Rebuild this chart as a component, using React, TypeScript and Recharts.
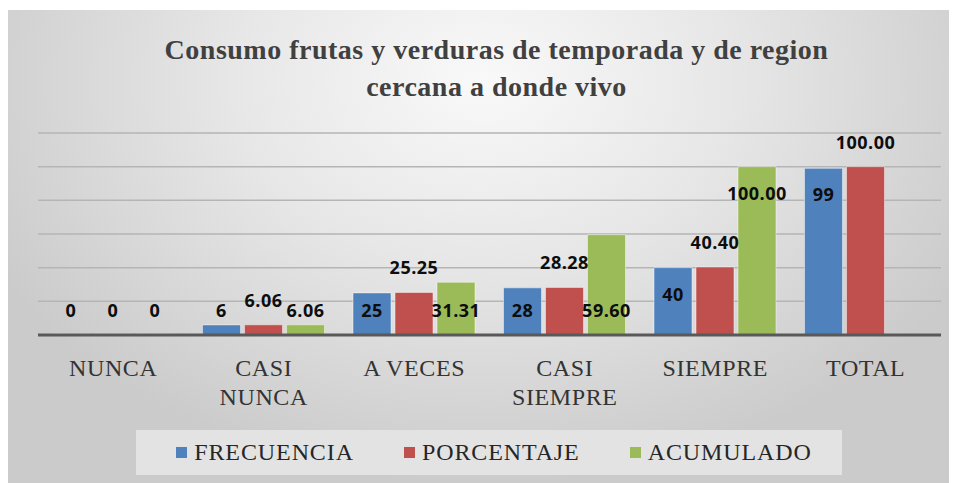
import React from 'react';
import { BarChart, Bar, XAxis, YAxis, CartesianGrid, LabelList } from 'recharts';

const categories = ['NUNCA', 'CASI NUNCA', 'A VECES', 'CASI SIEMPRE', 'SIEMPRE', 'TOTAL'];
const frecuencia = [0, 6, 25, 28, 40, 99];
const porcentaje = [0, 6.06, 25.25, 28.28, 40.4, 100];
const acumulado: (number | null)[] = [0, 6.06, 31.31, 59.6, 100, null];
const yTicks = [0, 20, 40, 60, 80, 100, 120];

// where Excel put each data label: at the base, above the bar, or inside its top
const frecuenciaSpots = ['base', 'base', 'base', 'base', 'inside', 'inside'];
const porcentajeSpots = ['base', 'above', 'above', 'above', 'above', 'above'];
const acumuladoSpots = ['base', 'base', 'base', 'base', 'inside', 'inside'];

const chartData = categories.map((name, i) => ({
    name,
    FRECUENCIA: frecuencia[i],
    PORCENTAJE: porcentaje[i],
    ACUMULADO: acumulado[i],
}));

const series = [
    { key: 'FRECUENCIA', color: '#4f81bd', decimals: 0, spots: frecuenciaSpots },
    { key: 'PORCENTAJE', color: '#c0504d', decimals: 2, spots: porcentajeSpots },
    { key: 'ACUMULADO', color: '#9bbb59', decimals: 2, spots: acumuladoSpots },
];

const serif = '"Liberation Serif", "Times New Roman", serif';

const makeLabel = (decimals: number, spots: string[]) => (props: any) => {
    const { x, y, width, height, value, index } = props;
    if (value === null || value === undefined) return null;
    const top = Number(y);
    const bottom = top + Number(height);
    const spot = spots[index];
    let cy = bottom - 25;
    if (spot === 'above') cy = top - 25;
    if (spot === 'inside') cy = top + 26;
    const text = Number(value) === 0 ? '0' : Number(value).toFixed(decimals);
    return (
        <text
            x={Number(x) + Number(width) / 2}
            y={cy}
            textAnchor="middle"
            dominantBaseline="central"
            fontFamily='"Open Sans", sans-serif'
            fontWeight={700}
            fontSize={18}
            letterSpacing={0.5}
            fill="#0d0d0d"
        >
            {text}
        </text>
    );
};

const CategoryTick = (props: any) => {
    const { x, y, payload } = props;
    const label: string = payload.value;
    const lines = label.length > 8 ? label.split(' ') : [label];
    return (
        <text x={x} y={y} textAnchor="middle" fontFamily={serif} fontSize={24} letterSpacing={0.6} fill="#333">
            {lines.map((line, i) => (
                <tspan key={i} x={x} y={Number(y) + 33 + i * 29} dominantBaseline="central">
                    {line}
                </tspan>
            ))}
        </text>
    );
};

// keep zero bars in the list so their "0" labels are drawn
const zeroBar = (value: any) => (value === 0 ? 1 : 0);

export default function App() {
    return (
        <div style={{ position: 'relative', width: 957, height: 483, marginLeft: -8, marginTop: -8, background: '#fff', overflow: 'hidden' }}>
            <div
                style={{
                    position: 'absolute',
                    left: 8,
                    top: 10,
                    width: 949,
                    height: 473,
                    background: 'radial-gradient(ellipse 58% 85% at 50% 15%, #f9f9f9 0%, #e7e7e7 45%, #cbcbcb 100%)',
                }}
            >
                <div
                    style={{
                        position: 'absolute',
                        left: 14,
                        top: 21,
                        width: 949,
                        textAlign: 'center',
                        fontFamily: serif,
                        fontWeight: 700,
                        fontSize: 28,
                        letterSpacing: 0.5,
                        lineHeight: '37px',
                        color: '#404040',
                    }}
                >
                    Consumo frutas y verduras de temporada y de region
                    <br />
                    cercana a donde vivo
                </div>

                <div style={{ position: 'absolute', left: 0, top: 0 }}>
                    <BarChart
                        width={949}
                        height={473}
                        data={chartData}
                        margin={{ top: 123, right: 16, left: 30, bottom: 88 }}
                        barSize={38}
                        barGap={4}
                    >
                        <CartesianGrid vertical={false} stroke="#b5b5b5" strokeWidth={1.5} />
                        <YAxis hide domain={[0, 120]} ticks={yTicks} />
                        <XAxis
                            dataKey="name"
                            height={60}
                            interval={0}
                            tickLine={false}
                            tickSize={0}
                            tickMargin={0}
                            axisLine={{ stroke: '#595959', strokeWidth: 3 }}
                            tick={<CategoryTick />}
                        />
                        {series.map((s) => (
                            <Bar
                                key={s.key}
                                dataKey={s.key}
                                fill={s.color}
                                stroke="rgba(255,255,255,0.45)"
                                strokeWidth={1}
                                minPointSize={zeroBar}
                                isAnimationActive={false}
                            >
                                <LabelList dataKey={s.key} content={makeLabel(s.decimals, s.spots)} />
                            </Bar>
                        ))}
                    </BarChart>
                </div>

                <div
                    style={{
                        position: 'absolute',
                        left: 128,
                        top: 420,
                        width: 706,
                        height: 45,
                        background: '#e3e3e3',
                        display: 'flex',
                        alignItems: 'center',
                        justifyContent: 'center',
                        gap: 50,
                        paddingLeft: 10,
                        boxSizing: 'border-box',
                    }}
                >
                    {series.map((s) => (
                        <div key={s.key} style={{ display: 'flex', alignItems: 'center' }}>
                            <span style={{ display: 'inline-block', width: 11, height: 11, background: s.color, marginRight: 7 }} />
                            <span style={{ fontFamily: serif, fontSize: 24, letterSpacing: 0.9, color: '#262626' }}>{s.key}</span>
                        </div>
                    ))}
                </div>
            </div>
        </div>
    );
}
